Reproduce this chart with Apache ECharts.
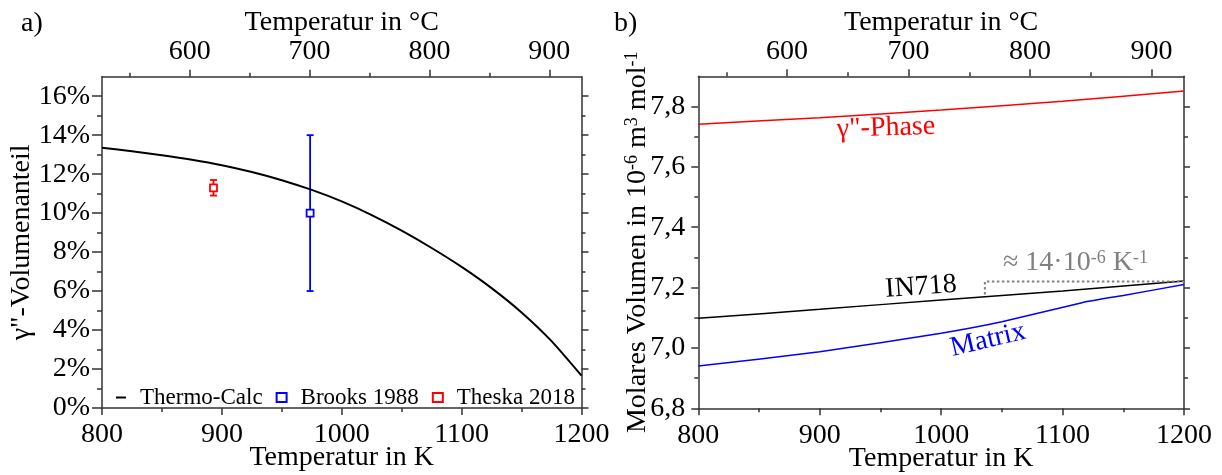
<!DOCTYPE html>
<html>
<head>
<meta charset="utf-8">
<script src="https://cdn.jsdelivr.net/npm/echarts@6/dist/echarts.min.js"></script>
<style>html,body{margin:0;padding:0;background:#fff;}#c{width:1222px;height:475px;}</style>
</head>
<body>
<div id="c"></div>
<script>
// ---------- data ----------
// panel a) gamma'' volume fraction
const tcK   = [800, 825, 850, 875, 900, 925, 950, 975, 1000, 1025, 1050, 1075, 1100, 1125, 1150, 1175, 1200];
const tcVol = [13.36, 13.17, 12.97, 12.74, 12.46, 12.11, 11.69, 11.19, 10.6, 9.9, 9.1, 8.21, 7.24, 6.15, 4.9, 3.43, 1.66];
const brooksK = [973.6];
const brooksVal = [10.0];
const brooksErr = [4.0];
const theskaK = [893];
const theskaVal = [11.3];
const theskaErr = [0.4];
const volTicks = [0, 2, 4, 6, 8, 10, 12, 14, 16];
const volMinor = [1, 3, 5, 7, 9, 11, 13, 15];

// panel b) molar volume
const phaseK = [800, 900, 1000, 1100, 1200];
const phaseV = [7.741, 7.763, 7.788, 7.817, 7.851];
const in718K = [800, 900, 1000, 1100, 1200];
const in718V = [7.098, 7.128, 7.159, 7.189, 7.2215];
const matrixK = [800, 900, 1000, 1050, 1116, 1150, 1200];
const matrixV = [6.94, 6.987, 7.049, 7.087, 7.15, 7.174, 7.21];
const coefK = [1036, 1036, 1200];
const coefV = [7.177, 7.22, 7.22];
const molTicks = [6.8, 7.0, 7.2, 7.4, 7.6, 7.8];
const molMinor = [6.9, 7.1, 7.3, 7.5, 7.7];

// shared axes
const kMin = 800, kMax = 1200, kStep = 100;
const cTicks = [600, 700, 800, 900];
const cMinor = [550, 650, 750, 850];

// ---------- styling ----------
const FONT = 'Liberation Serif';
const AX = '#333';
const FS = 28;
const zip = (a, b) => a.map((v, i) => [v, b[i]]);
const nameStyle = { fontFamily: FONT, fontSize: FS, color: '#000' };

function bottomAxis(g) {
  return {
    type: 'value', gridIndex: g, position: 'bottom', min: kMin, max: kMax, interval: kStep,
    axisLine: { show: true, onZero: false, lineStyle: { color: AX, width: 1.5 } },
    axisTick: { show: true, inside: false, length: 7, lineStyle: { color: AX, width: 1.5 } },
    minorTick: { show: true, splitNumber: 2, length: 4, lineStyle: { color: AX, width: 1.5 } },
    axisLabel: { fontFamily: FONT, fontSize: FS, color: '#000', margin: 13, formatter: v => String(v) },
    splitLine: { show: false }, minorSplitLine: { show: false },
    name: 'Temperatur in K', nameLocation: 'middle', nameGap: 36, nameMoveOverlap: false,
    nameTextStyle: nameStyle
  };
}
function topAxis(g) {
  return {
    type: 'value', gridIndex: g, position: 'top', min: kMin - 273.15, max: kMax - 273.15,
    axisLine: { show: true, onZero: false, lineStyle: { color: AX, width: 1.5 } },
    axisTick: { show: true, inside: false, length: 7, customValues: cTicks, lineStyle: { color: AX, width: 1.5 } },
    axisLabel: { fontFamily: FONT, fontSize: FS, color: '#000', margin: 11, customValues: cTicks, formatter: v => String(v) },
    splitLine: { show: false },
    name: 'Temperatur in °C', nameLocation: 'middle', nameGap: 40, nameMoveOverlap: false,
    nameTextStyle: nameStyle
  };
}
function topMinor(g) {
  return {
    type: 'value', gridIndex: g, position: 'top', min: kMin - 273.15, max: kMax - 273.15,
    axisLine: { show: false, onZero: false },
    axisTick: { show: true, inside: false, length: 4, customValues: cMinor, lineStyle: { color: AX, width: 1.5 } },
    axisLabel: { show: false }, splitLine: { show: false }
  };
}
function yAxisDef(g, pos, min, max, ticks, len, label, extra) {
  return Object.assign({
    type: 'value', gridIndex: g, position: pos, min: min, max: max,
    axisLine: { show: true, onZero: false, lineStyle: { color: AX, width: 1.5 } },
    axisTick: { show: true, inside: false, length: len, customValues: ticks, lineStyle: { color: AX, width: 1.5 } },
    axisLabel: label ? Object.assign({ fontFamily: FONT, fontSize: FS, color: '#000', margin: 12, customValues: ticks }, label) : { show: false },
    splitLine: { show: false }
  }, extra || {});
}
const noLine = { axisLine: { show: false } };

const xAxes = [
  bottomAxis(0), topAxis(0), topMinor(0),
  bottomAxis(1), topAxis(1), topMinor(1)
];
const yAxes = [
  yAxisDef(0, 'left', 0, 17, volTicks, 10, { formatter: v => v + '%' }, {
    name: 'γ"-Volumenanteil', nameLocation: 'middle', nameGap: 66, nameMoveOverlap: false,
    nameTextStyle: nameStyle
  }),
  yAxisDef(0, 'left', 0, 17, volMinor, 5, null, noLine),
  yAxisDef(0, 'right', 0, 17, volTicks, 7, null),
  yAxisDef(0, 'right', 0, 17, volMinor, 4, null, noLine),
  yAxisDef(1, 'left', 6.8, 7.9, molTicks, 7, { formatter: v => v.toFixed(1).replace('.', ','), margin: 13 }, {
    name: 'Molares Volumen in 10{s|-6} m{s|3} mol{s|-1}', nameLocation: 'middle', nameGap: 47, nameMoveOverlap: false,
    nameTextStyle: { fontFamily: FONT, fontSize: FS, color: '#000',
      rich: { s: { fontFamily: FONT, fontSize: 18, color: '#000', verticalAlign: 'top' } } }
  }),
  yAxisDef(1, 'left', 6.8, 7.9, molMinor, 4, null, noLine),
  yAxisDef(1, 'right', 6.8, 7.9, molTicks, 6, null),
  yAxisDef(1, 'right', 6.8, 7.9, molMinor, 4, null, noLine)
];

function errorBars(name, xs, vals, errs, color) {
  return {
    name: name, type: 'custom', xAxisIndex: 0, yAxisIndex: 0, z: 3,
    data: xs.map((x, i) => [x, vals[i] - errs[i], vals[i] + errs[i]]),
    renderItem: function (params, api) {
      const x = api.value(0);
      const lo = api.coord([x, api.value(1)]);
      const hi = api.coord([x, api.value(2)]);
      const hw = 3.5;
      const st = { stroke: color, lineWidth: 1.8 };
      return { type: 'group', children: [
        { type: 'line', shape: { x1: lo[0], y1: lo[1], x2: hi[0], y2: hi[1] }, style: st },
        { type: 'line', shape: { x1: lo[0] - hw, y1: lo[1], x2: lo[0] + hw, y2: lo[1] }, style: st },
        { type: 'line', shape: { x1: hi[0] - hw, y1: hi[1], x2: hi[0] + hw, y2: hi[1] }, style: st }
      ]};
    }
  };
}
function points(name, xs, vals, color) {
  return {
    name: name, type: 'scatter', xAxisIndex: 0, yAxisIndex: 0, z: 5,
    symbol: 'rect', symbolSize: 7,
    itemStyle: { color: '#fff', borderColor: color, borderWidth: 1.8, opacity: 1 },
    data: zip(xs, vals)
  };
}

const option = {
  animation: false,
  backgroundColor: '#fff',
  grid: [
    { left: 102, top: 76.7, width: 479.5, height: 331.3, outerBoundsMode: 'none', containLabel: false },
    { left: 698.3, top: 76.3, width: 485.7, height: 332, outerBoundsMode: 'none', containLabel: false }
  ],
  xAxis: xAxes,
  yAxis: yAxes,
  legend: {
    data: [
      { name: 'Thermo-Calc', itemStyle: { opacity: 0 } },
      { name: 'Brooks 1988' },
      { name: 'Theska 2018' }
    ],
    left: 115, top: 386, padding: 0, itemGap: 13, itemWidth: 10, itemHeight: 9,
    selectedMode: false,
    textStyle: { fontFamily: FONT, fontSize: 23, color: '#000', padding: [0, 0, 0, 9] }
  },
  series: [
    { name: 'Thermo-Calc', type: 'line', xAxisIndex: 0, yAxisIndex: 0, symbol: 'none', smooth: 0.2,
      lineStyle: { color: '#000', width: 2 }, itemStyle: { color: '#000' }, data: zip(tcK, tcVol) },
    errorBars('Brooks err', brooksK, brooksVal, brooksErr, '#0000ff'),
    points('Brooks 1988', brooksK, brooksVal, '#0000ff'),
    errorBars('Theska err', theskaK, theskaVal, theskaErr, '#ff0000'),
    points('Theska 2018', theskaK, theskaVal, '#ff0000'),

    { name: 'γ"-Phase', type: 'line', xAxisIndex: 3, yAxisIndex: 4, symbol: 'none', smooth: 0.2,
      lineStyle: { color: '#ff0000', width: 1.5 }, data: zip(phaseK, phaseV) },
    { name: 'IN718', type: 'line', xAxisIndex: 3, yAxisIndex: 4, symbol: 'none', smooth: 0.2,
      lineStyle: { color: '#000', width: 1.5 }, data: zip(in718K, in718V) },
    { name: 'Matrix', type: 'line', xAxisIndex: 3, yAxisIndex: 4, symbol: 'none', smooth: 0.15,
      lineStyle: { color: '#0000ff', width: 1.5 }, data: zip(matrixK, matrixV) },
    { name: 'coef', type: 'line', xAxisIndex: 3, yAxisIndex: 4, symbol: 'none',
      lineStyle: { color: '#808080', width: 2, type: [2.5, 2.5] }, data: zip(coefK, coefV) }
  ],
  graphic: [
    { type: 'text', x: 21, y: 24, style: { text: 'a)', font: '28px "Liberation Serif"', fill: '#000', align: 'left', verticalAlign: 'middle', textAlign: 'left', textVerticalAlign: 'middle' } },
    { type: 'text', x: 614, y: 24, style: { text: 'b)', font: '28px "Liberation Serif"', fill: '#000', align: 'left', verticalAlign: 'middle', textAlign: 'left', textVerticalAlign: 'middle' } },
    { type: 'text', x: 886, y: 128, rotation: 0.03, style: { text: 'γ"-Phase', font: '28px "Liberation Serif"', fill: '#ff0000', align: 'center', verticalAlign: 'middle', textAlign: 'center', textVerticalAlign: 'middle' } },
    { type: 'text', x: 921, y: 287, rotation: 0.07, style: { text: 'IN718', font: '28px "Liberation Serif"', fill: '#000', align: 'center', verticalAlign: 'middle', textAlign: 'center', textVerticalAlign: 'middle' } },
    { type: 'text', x: 988, y: 340, rotation: 0.232, style: { text: 'Matrix', font: '28px "Liberation Serif"', fill: '#0000ff', align: 'center', verticalAlign: 'middle', textAlign: 'center', textVerticalAlign: 'middle' } },
    { type: 'text', x: 1003, y: 263, style: {
        text: '{a|≈ 14·10}{s|-6}{a| K}{s|-1}', align: 'left', verticalAlign: 'middle', textAlign: 'left', textVerticalAlign: 'middle',
        rich: { a: { fontFamily: FONT, fontSize: 28, fill: '#808080', color: '#808080' },
                s: { fontFamily: FONT, fontSize: 18, fill: '#808080', color: '#808080', verticalAlign: 'top' } } } }
  ]
};

const chart = echarts.init(document.getElementById('c'), null, { renderer: 'canvas' });
chart.setOption(option);
</script>
</body>
</html>
